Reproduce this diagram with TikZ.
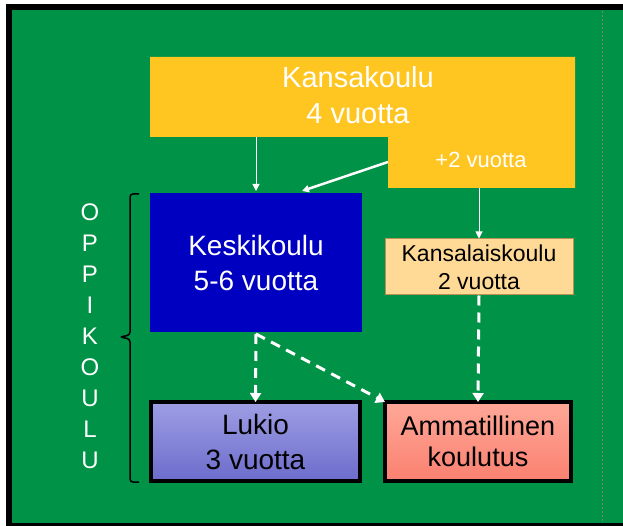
\documentclass[tikz,border=0pt]{standalone}
\usepackage{fontspec}
\setmainfont{Liberation Sans}
\usetikzlibrary{arrows.meta,positioning}

\definecolor{bggreen}{RGB}{0,146,70}
\definecolor{kyellow}{RGB}{255,197,32}
\definecolor{kblue}{RGB}{0,0,192}
\definecolor{kpeach}{RGB}{255,217,150}
\definecolor{kpeachline}{RGB}{185,145,85}
\definecolor{lutop}{RGB}{158,158,228}
\definecolor{lubot}{RGB}{108,108,204}
\definecolor{amtop}{RGB}{255,168,152}
\definecolor{ambot}{RGB}{250,128,112}

\tikzset{
  schoolbox/.style={draw=black, line width=4pt, align=center, inner sep=0pt,
    font=\fontsize{28}{35}\selectfont},
  thinarrow/.style={white, line width=1pt, -{Triangle[width=7pt,length=7pt]}},
  dasharrow/.style={white, line width=3pt, dash pattern=on 10pt off 7pt,
    -{Triangle[width=11pt,length=9pt]}},
  letter/.style={white, font=\fontsize{24}{24}\selectfont, inner sep=0pt}
}

\begin{document}
\begin{tikzpicture}[x=1pt,y=-1pt]
  \useasboundingbox (0,0) rectangle (623,526);
  \clip (0,0) rectangle (623,526);
  % tausta ja kehys
  \fill[bggreen] (9,7) rectangle (700,530);
  \draw[black, line width=6pt] (9,7) rectangle (700,526);
  \draw[gray, line width=0.8pt, dash pattern=on 2pt off 2pt] (602,11) -- (602,523);

  % kansakoulu
  \fill[kyellow] (150,57) -- (575,57) -- (575,188) -- (388,188) -- (388,137) -- (150,137) -- cycle;
  \node[white, align=center, font=\fontsize{29}{36}\selectfont] (kansa) at (358,95) {Kansakoulu\\4 vuotta};
  \node[white, font=\fontsize{22}{22}\selectfont] (plus) at (481,160) {+2 vuotta};
  \coordinate (kansab) at (256,137);
  \coordinate (plusl) at (388,162);
  \coordinate (plusb) at (479,188);

  % koulut
  \node[schoolbox, draw=none, fill=kblue, text=white, minimum width=212pt, minimum height=139pt]
    (kesk) at (256,262.5) {Keskikoulu\\5-6 vuotta};
  \node[draw=kpeachline, line width=1pt, fill=kpeach, align=center, inner sep=0pt,
    font=\fontsize{23}{28}\selectfont, minimum width=188pt, minimum height=56pt]
    (kansal) at (479,267) {Kansalaiskoulu\\2 vuotta};
  \node[schoolbox, top color=lutop, bottom color=lubot, minimum width=209pt, minimum height=79pt]
    (lukio) at (255.5,441.5) {Lukio\\3 vuotta};
  \node[schoolbox, top color=amtop, bottom color=ambot, minimum width=186pt, minimum height=79pt,
    font=\fontsize{27}{31}\selectfont]
    (amm) at (478,441.5) {Ammatillinen\\koulutus};

  % nuolet
  \draw[thinarrow] (kansab) -- (kesk.north);
  \draw[thinarrow, line width=2.5pt] (plusl) -- ([xshift=46pt]kesk.north);
  \draw[thinarrow] (plusb) -- (kansal.north);
  \draw[dasharrow] (kesk.south) -- ([yshift=-2pt]lukio.north);
  \draw[dasharrow] (kesk.south) -- ([shift={(2pt,-2pt)}]amm.north west);
  \draw[dasharrow] (kansal.south) -- ([yshift=-2pt]amm.north);

  % oppikoulu
  \draw[black, line width=1.5pt, rounded corners=3pt]
    (139,194) -- (130,194) -- (130,335) -- (120,337) -- (130,339) -- (130,482) -- (139,482);
  \foreach \ch [count=\i from 0] in {O,P,P,I,K,O,U,L,U}
    \node[letter] (opp\i) at (90,212+31*\i) {\ch};
\end{tikzpicture}
\end{document}
